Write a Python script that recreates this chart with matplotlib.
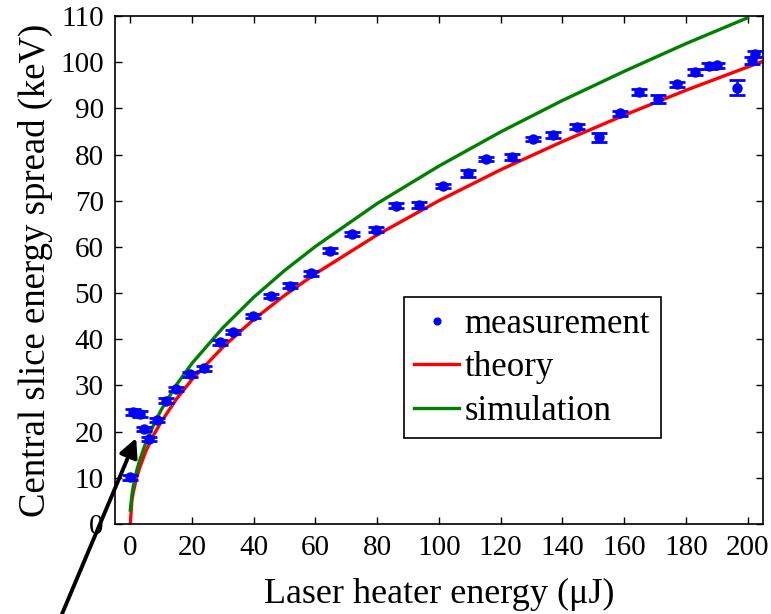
import matplotlib
matplotlib.use("Agg")
import matplotlib.pyplot as plt

# measured central slice energy spread vs laser heater energy
meas_x = [0, 1, 3, 4.4, 6.2, 8.7, 11.7, 14.9, 19.5, 23.8, 28.9, 33.2, 39.7,
          45.6, 51.8, 58.6, 64.8, 71.8, 79.6, 86.2, 93.4, 101.4, 109.3, 115.2,
          123.6, 130.6, 137.0, 144.6, 151.9, 158.6, 164.8, 171.1, 177.2,
          182.9, 187.5, 190.2, 196.6, 201.3, 202.5]
meas_y = [10.1, 24.2, 23.8, 20.6, 18.4, 22.5, 26.7, 29.2, 32.4, 33.7, 39.3,
          41.6, 45.0, 49.4, 51.6, 54.3, 59.2, 62.8, 63.7, 68.9, 69.1, 73.2,
          75.9, 79.0, 79.5, 83.4, 84.2, 86.0, 83.7, 88.9, 93.5, 92.0, 95.2,
          97.9, 99.2, 99.3, 94.5, 100.4, 101.8]
meas_err = [0.5, 0.6, 0.6, 0.5, 0.5, 0.5, 0.5, 0.5, 0.5, 0.6, 0.5, 0.5, 0.5,
            0.5, 0.5, 0.5, 0.5, 0.5, 0.5, 0.5, 0.6, 0.5, 0.7, 0.5, 0.6, 0.5,
            0.7, 0.5, 0.9, 0.5, 0.6, 0.8, 0.6, 0.6, 0.6, 0.6, 1.6, 0.8, 0.7]

# theory curve
theory_x = [0, 0.5, 1, 2, 3, 5, 7.5, 10, 15, 20, 30, 40, 50, 60, 80, 100,
            120, 140, 160, 180, 205]
theory_y = [0, 5.0, 7.0, 9.9, 12.1, 15.7, 19.2, 22.1, 27.1, 31.3, 38.3, 44.3,
            49.5, 54.2, 62.6, 70.0, 76.7, 82.8, 88.5, 93.9, 100.2]

# simulation curve
sim_x = [0, 0.5, 1, 2, 3, 5, 7.5, 10, 15, 20, 30, 40, 50, 60, 80, 100, 120,
         140, 160, 180, 200]
sim_y = [3.0, 6.2, 8.3, 11.4, 13.7, 17.6, 21.4, 24.7, 30.2, 34.8, 42.5, 49.1,
         54.9, 60.1, 69.4, 77.5, 84.9, 91.7, 98.0, 104.0, 109.6]

plt.rcParams['font.family'] = ['Liberation Serif', 'DejaVu Serif']

fig = plt.figure(figsize=(7.71, 6.14), dpi=100)
ax = fig.add_axes([0.149, 0.1466, 0.8406, 0.8274])

meas = ax.errorbar(meas_x, meas_y, yerr=meas_err, fmt='.', color='#0000ff',
                   markersize=13, elinewidth=1.8, capsize=6, capthick=2,
                   zorder=3)
th, = ax.plot(theory_x, theory_y, color='#ff0000', lw=2.4)
sim, = ax.plot(sim_x, sim_y, color='#008000', lw=2.4)

ax.set_xlim(-5, 205)
ax.set_ylim(0, 110)
ax.set_xticks(range(0, 201, 20))
ax.set_yticks(range(0, 111, 10))
ax.tick_params(direction='in', top=True, right=True, length=5, width=1,
               labelsize=21, pad=8)
for s in ax.spines.values():
    s.set_linewidth(1.2)

ax.set_xlabel('Laser heater energy (\u03bcJ)', fontsize=26, labelpad=12)
ax.set_ylabel('Central slice energy spread (keV)', fontsize=26.5, labelpad=5)

# only the dot is shown for the measurement entry
leg = ax.legend([meas[0], th, sim], ['measurement', 'theory', 'simulation'],
                loc='upper left', bbox_to_anchor=(0.446, 0.446),
                borderaxespad=0, fontsize=25, handlelength=1.3,
                handletextpad=0.15, labelspacing=0.3, borderpad=0.3,
                fancybox=False, edgecolor='black', framealpha=1,
                markerscale=0.75)
leg.get_frame().set_linewidth(1.2)

ax.annotate('', xy=(1.9, 18.6), xycoords='data',
            xytext=(62, 0), textcoords='figure pixels',
            arrowprops=dict(arrowstyle='-|>', color='black', lw=2.8,
                            mutation_scale=28, shrinkA=0, shrinkB=0),
            annotation_clip=False)

fig.savefig('out.png', dpi=100)
